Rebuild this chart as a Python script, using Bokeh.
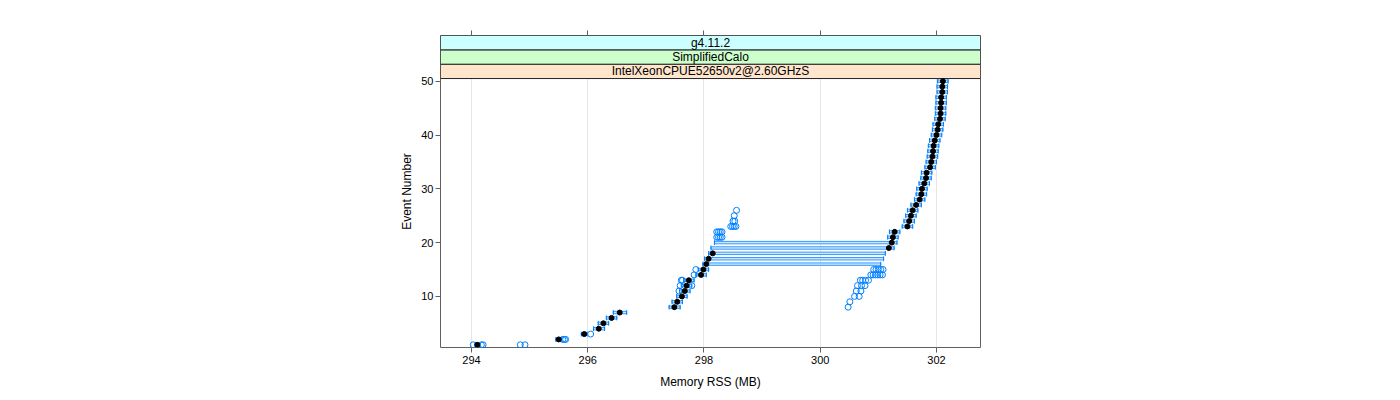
from bokeh.plotting import figure
from bokeh.models import Range1d, FixedTicker, LinearAxis, CustomJSTickFormatter, ColumnDataSource
from bokeh.core.properties import value
from bokeh.embed import file_html
from bokeh.resources import INLINE

# ---------------- data ----------------
events = list(range(1, 51))
mean_mb = [294.10, 295.50, 295.94, 296.19, 296.27, 296.41, 296.55, 297.49, 297.54, 297.62,
           297.67, 297.70, 297.74, 297.95, 297.99, 298.04, 298.08, 298.15, 301.18, 301.23,
           301.25, 301.28, 301.50, 301.53, 301.56, 301.59, 301.65, 301.71, 301.74, 301.75,
           301.79, 301.82, 301.83, 301.89, 301.91, 301.93, 301.94, 301.95, 301.97, 302.00,
           302.02, 302.03, 302.06, 302.07, 302.07, 302.08, 302.08, 302.10, 302.10, 302.11]
bar_lo = [294.06, 295.45, 295.89, 296.10, 296.18, 296.32, 296.44, 297.40, 297.45, 297.53,
          297.58, 297.61, 297.65, 297.86, 297.90, 297.98, 298.01, 298.08, 298.12, 298.18,
          301.16, 301.19, 301.41, 301.44, 301.47, 301.50, 301.56, 301.62, 301.65, 301.66,
          301.70, 301.73, 301.74, 301.80, 301.82, 301.84, 301.85, 301.86, 301.88, 301.91,
          301.93, 301.94, 301.97, 301.98, 301.98, 301.99, 301.99, 302.01, 302.01, 302.02]
bar_hi = [294.14, 295.55, 295.99, 296.29, 296.36, 296.50, 296.67, 297.59, 297.63, 297.71,
          297.76, 297.79, 297.83, 298.04, 298.08, 301.04, 301.09, 301.12, 301.27, 301.32,
          301.34, 301.37, 301.59, 301.62, 301.65, 301.68, 301.74, 301.80, 301.83, 301.84,
          301.88, 301.91, 301.92, 301.98, 302.00, 302.02, 302.03, 302.04, 302.06, 302.09,
          302.11, 302.12, 302.15, 302.16, 302.16, 302.17, 302.17, 302.19, 302.19, 302.20]
outlier_event = [1, 1, 1, 1, 1,
                 2, 2, 2,
                 3,
                 8, 9, 10, 10,
                 11, 11, 11,
                 12, 12, 12, 12, 12,
                 13, 13, 13, 13, 13, 13,
                 14, 14, 14, 14, 14, 14, 14,
                 15, 15, 15, 15, 15, 15,
                 21, 21, 21, 21,
                 22, 22, 22, 22,
                 23, 23, 23, 23,
                 24, 24, 25, 26]
outlier_mb = [294.03, 294.17, 294.20, 294.84, 294.92,
              295.57, 295.60, 295.62,
              296.05,
              300.48, 300.51, 300.59, 300.67,
              297.57, 300.62, 300.70,
              297.59, 297.79, 300.64, 300.71, 300.77,
              297.61, 297.63, 300.69, 300.73, 300.78, 300.83,
              297.83, 300.87, 300.91, 300.95, 300.99, 301.03, 301.07,
              297.86, 300.92, 300.96, 301.00, 301.04, 301.08,
              298.22, 298.25, 298.28, 298.31,
              298.22, 298.25, 298.28, 298.31,
              298.46, 298.49, 298.52, 298.55,
              298.50, 298.53, 298.52, 298.56]
strip_labels = ["IntelXeonCPUE52650v2@2.60GHzS", "SimplifiedCalo", "g4.11.2"]
strip_colors = ["#ffe5cc", "#ccffcc", "#ccffff"]
x_ticks = [294, 296, 298, 300, 302]
y_ticks = [10, 20, 30, 40, 50]

# ---------------- layout constants ----------------
X0, X1 = 293.467, 302.757
Y0, YP = 0.5, 50.5          # panel y limits
STRIP_H = 2.667             # strip height in y units
Y1 = YP + 3 * STRIP_H
FONT = "Liberation Sans"
BLUE = "#0080ff"
FRAME = "#606060"

p = figure(width=1392, height=392, output_backend="svg", toolbar_location=None,
           x_range=Range1d(X0, X1), y_range=Range1d(Y0, Y1),
           min_border_left=440, min_border_right=412, min_border_top=35, min_border_bottom=45)
p.outline_line_color = FRAME
p.outline_line_width = 1
p.background_fill_color = "white"
p.border_fill_color = "white"

# grid
p.ygrid.grid_line_color = None
p.xgrid.ticker = FixedTicker(ticks=x_ticks)
p.xgrid.grid_line_color = "#e6e6e6"

# axes
for ax in (p.xaxis[0], p.yaxis[0]):
    ax.axis_line_color = None
    ax.major_tick_line_color = FRAME
    ax.major_tick_in = 0
    ax.major_tick_out = 5
    ax.minor_tick_line_color = None
    ax.major_label_text_font = FONT
    ax.major_label_text_font_size = "11px"
    ax.major_label_text_color = "black"
    ax.axis_label_text_font = FONT
    ax.axis_label_text_font_size = "12px"
    ax.axis_label_text_font_style = "normal"
    ax.axis_label_text_color = "black"
p.xaxis.ticker = FixedTicker(ticks=x_ticks)
p.yaxis.ticker = FixedTicker(ticks=y_ticks)
p.xaxis.axis_label = "Memory RSS (MB)"
p.yaxis.axis_label = "Event Number"
p.xaxis.major_label_standoff = 3
p.xaxis.axis_label_standoff = 8
p.yaxis.major_label_standoff = 2
p.yaxis.axis_label_standoff = 4
p.yaxis.major_label_orientation = "horizontal"

top_ax = LinearAxis(ticker=FixedTicker(ticks=x_ticks),
                    formatter=CustomJSTickFormatter(code="return ''"),
                    axis_line_color=None, major_tick_line_color=FRAME,
                    major_tick_in=0, major_tick_out=5, minor_tick_line_color=None)
p.add_layout(top_ax, "above")

# strips
strip_src = ColumnDataSource(dict(
    left=[X0] * 3, right=[X1] * 3,
    bottom=[YP + i * STRIP_H for i in range(3)],
    top=[YP + (i + 1) * STRIP_H for i in range(3)],
    color=strip_colors, label=strip_labels,
    xc=[(X0 + X1) / 2] * 3,
    yc=[YP + (i + 0.5) * STRIP_H for i in range(3)]))
p.quad(left="left", right="right", bottom="bottom", top="top", source=strip_src,
       fill_color="color", line_color="#222222", line_width=1)
p.text(x="xc", y="yc", text="label", source=strip_src, text_align="center",
       text_baseline="middle", text_font=value(FONT), text_font_size="12px", text_color="black")

# error bars
src = ColumnDataSource(dict(event=events, mean=mean_mb, lo=bar_lo, hi=bar_hi,
                            e0=[e - 0.45 for e in events], e1=[e + 0.45 for e in events]))
p.hbar(y="event", left="lo", right="hi", height=0.45, source=src,
       fill_color="#cfe6ff", line_color="#3399ff", line_width=1)
p.segment(x0="lo", y0="e0", x1="lo", y1="e1", source=src, line_color=BLUE, line_width=1)
p.segment(x0="hi", y0="e0", x1="hi", y1="e1", source=src, line_color=BLUE, line_width=1)

# outliers
p.scatter(x=outlier_mb, y=outlier_event, marker="circle", size=6,
          fill_color=None, line_color=BLUE, line_width=1)

# means
p.scatter(x="mean", y="event", source=src, marker="circle", size=5,
          fill_color="black", line_color="black")

open("out.html", "w").write(file_html(p, INLINE))
